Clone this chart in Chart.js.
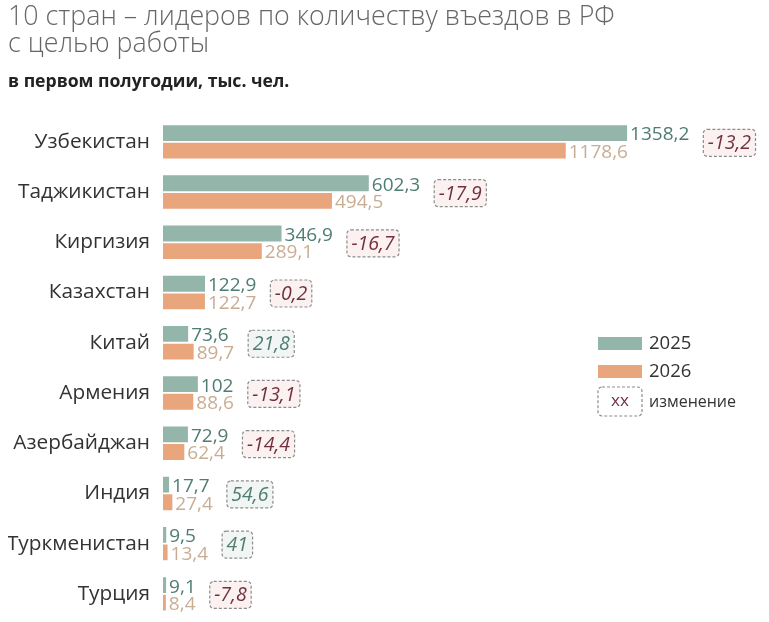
<!DOCTYPE html>
<html lang="ru">
<head>
<meta charset="utf-8">
<title>Въезды в РФ с целью работы</title>
<script src="https://cdn.jsdelivr.net/npm/chart.js@4.4.1/dist/chart.umd.min.js"></script>
<style>
  html, body { margin: 0; padding: 0; background: #fff; }
  #wrap { width: 769px; height: 622px; position: relative; }
</style>
</head>
<body>
<div id="wrap"><canvas id="entryChart"></canvas></div>
<script>
// data
const countries = ['Узбекистан', 'Таджикистан', 'Киргизия', 'Казахстан', 'Китай',
                   'Армения', 'Азербайджан', 'Индия', 'Туркменистан', 'Турция'];
const values2025 = [1358.2, 602.3, 346.9, 122.9, 73.6, 102, 72.9, 17.7, 9.5, 9.1];
const values2026 = [1178.6, 494.5, 289.1, 122.7, 89.7, 88.6, 62.4, 27.4, 13.4, 8.4];
const changes = [-13.2, -17.9, -16.7, -0.2, 21.8, -13.1, -14.4, 54.6, 41, -7.8];
const seriesNames = ['2025', '2026'];
const changeLegend = 'изменение';

const sans = '"Open Sans", "Noto Sans", sans-serif';
const teal = '#93b5aa';
const orange = '#e9a57c';

function fmt(v) {
    return String(v).replace('.', ',');
}

function drawBox(ctx, x, y, w, h, fill) {
    ctx.save();
    ctx.beginPath();
    ctx.roundRect(x, y, w, h, 4);
    ctx.fillStyle = fill;
    ctx.fill();
    ctx.setLineDash([3, 2]);
    ctx.lineWidth = 1.2;
    ctx.strokeStyle = '#8c8c8c';
    ctx.stroke();
    ctx.restore();
}

// value labels next to the bars and the dashed change boxes
const labelsPlugin = {
    id: 'barLabels',
    afterDatasetsDraw(chart) {
        const ctx = chart.ctx;
        const metaA = chart.getDatasetMeta(0);
        const metaB = chart.getDatasetMeta(1);
        ctx.save();
        ctx.font = '19px ' + sans;
        ctx.textBaseline = 'middle';
        countries.forEach((c, i) => {
            const a = metaA.data[i];
            const b = metaB.data[i];
            const ta = fmt(values2025[i]);
            const tb = fmt(values2026[i]);
            ctx.fillStyle = '#4f7c73';
            ctx.fillText(ta, a.x + 3, a.y + 2);
            ctx.fillStyle = '#c9ad93';
            ctx.fillText(tb, b.x + 3, b.y + 2);
            const endA = a.x + 3 + ctx.measureText(ta).width;
            const endB = b.x + 3 + ctx.measureText(tb).width;

            const ch = changes[i];
            const tc = fmt(ch);
            ctx.save();
            ctx.font = 'italic 19.5px ' + sans;
            const w = ctx.measureText(tc).width + 9;
            const bx = Math.max(endA, endB) + 14;
            const cy = (a.y + b.y) / 2 + 1;
            drawBox(ctx, bx, cy - 13.5, w, 27, ch < 0 ? '#fbf1f1' : '#f1f6f4');
            ctx.fillStyle = ch < 0 ? '#72303f' : '#4f7c73';
            ctx.textAlign = 'center';
            ctx.fillText(tc, bx + w / 2, cy + 1);
            ctx.restore();
        });
        ctx.restore();
    },
    afterDraw(chart) {
        // custom legend on the right side
        const ctx = chart.ctx;
        const x = 598;
        ctx.save();
        ctx.textBaseline = 'middle';
        chart.data.datasets.forEach((ds, i) => {
            const y = 337 + i * 28;
            ctx.fillStyle = ds.backgroundColor;
            ctx.fillRect(x, y, 44, 13);
            ctx.fillStyle = '#333';
            ctx.font = '18.5px ' + sans;
            ctx.fillText(ds.label, x + 51, y + 7);
        });
        drawBox(ctx, x, 387, 44, 29, '#ffffff');
        ctx.fillStyle = '#72303f';
        ctx.font = '17px ' + sans;
        ctx.textAlign = 'center';
        ctx.fillText('xx', x + 22, 401);
        ctx.textAlign = 'left';
        ctx.fillStyle = '#333';
        ctx.font = '16px ' + sans;
        ctx.fillText(changeLegend, x + 51, 402);
        ctx.restore();
    }
};

new Chart(document.getElementById('entryChart'), {
    type: 'bar',
    data: {
        labels: countries,
        datasets: [{
            label: seriesNames[0],
            data: values2025,
            backgroundColor: teal,
            categoryPercentage: 0.7,
            barPercentage: 0.9
        }, {
            label: seriesNames[1],
            data: values2026,
            backgroundColor: orange,
            categoryPercentage: 0.7,
            barPercentage: 0.9
        }]
    },
    options: {
        indexAxis: 'y',
        responsive: true,
        maintainAspectRatio: false,
        animation: false,
        layout: { padding: { left: 8, right: 8, top: 0, bottom: 3 } },
        plugins: {
            legend: { display: false },
            tooltip: { enabled: false },
            title: {
                display: true,
                align: 'start',
                text: ['10 стран – лидеров по количеству въездов в РФ', 'с целью работы'],
                color: '#666',
                font: { family: sans, size: 26.8, weight: 300, lineHeight: 1.0 },
                padding: { top: 4, bottom: 2 }
            },
            subtitle: {
                display: true,
                align: 'start',
                text: 'в первом полугодии, тыс. чел.',
                color: '#222',
                font: { family: sans, size: 17.6, weight: 'bold' },
                padding: { top: 12, bottom: 24 }
            }
        },
        scales: {
            x: {
                display: false,
                min: 0,
                max: 1750
            },
            y: {
                grid: { display: false, drawTicks: false },
                border: { display: false },
                ticks: {
                    color: '#333',
                    padding: 13,
                    font: { family: sans, size: 20.8 }
                },
                afterFit(scale) {
                    scale.width = 155;
                    scale.paddingTop = 0;
                    scale.paddingBottom = 0;
                }
            }
        }
    },
    plugins: [labelsPlugin]
});
</script>
</body>
</html>
